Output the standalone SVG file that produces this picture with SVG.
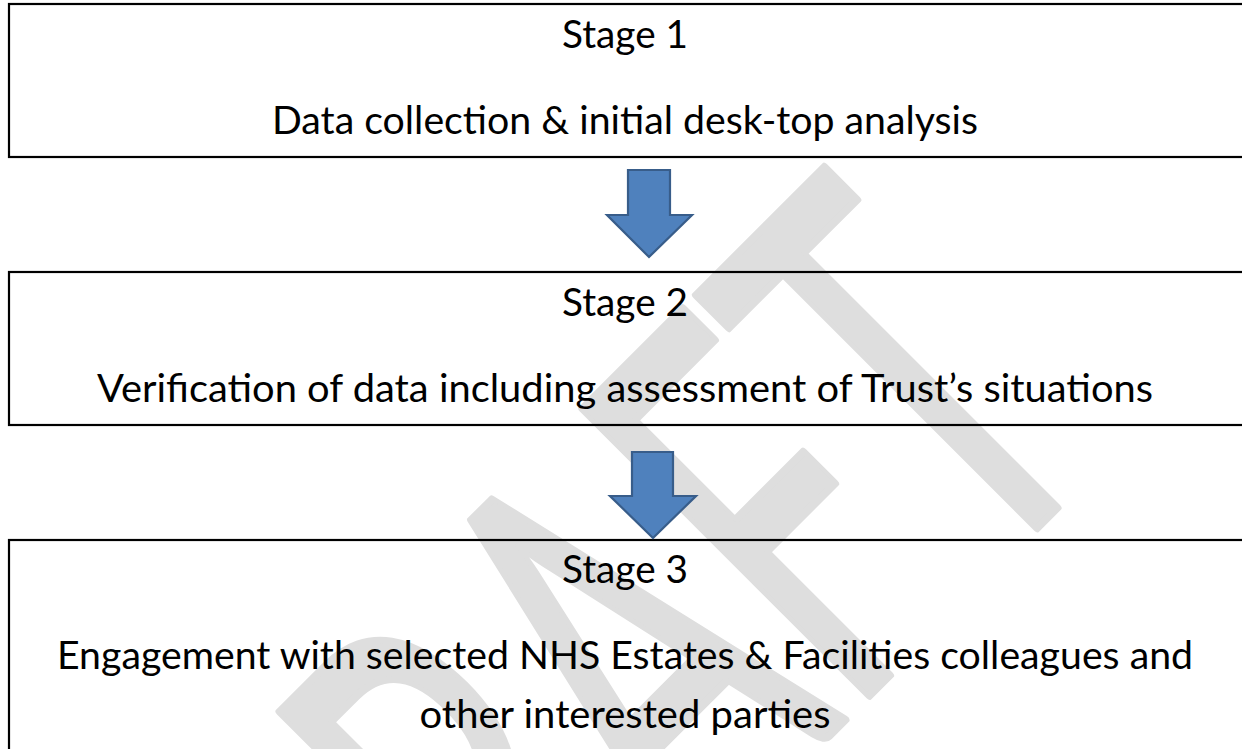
<svg xmlns="http://www.w3.org/2000/svg" width="1242" height="749" viewBox="0 0 1242 749">
  <style>
    .box { fill: none; stroke: #000; stroke-width: 2.2; }
    .label { font-family: Lato, "Open Sans", "Liberation Sans", sans-serif; font-size: 38px; fill: #000; text-anchor: middle; }
    .arrow { fill: #4F81BD; stroke: #385D8A; stroke-width: 2.2; stroke-linejoin: miter; }
    .wm { font-family: Lato, "Open Sans", "Liberation Sans", sans-serif; font-size: 566px; fill: #dedede; stroke: #dedede; stroke-width: 8; stroke-linejoin: round; }
  </style>

  <rect width="1242" height="749" fill="#ffffff"/>

  <!-- background watermark -->
  <g id="watermark">
    <text class="wm" transform="translate(367.5,1197.5) rotate(-45)" textLength="1058" lengthAdjust="spacingAndGlyphs">DRAFT</text>
  </g>

  <!-- stage boxes -->
  <g id="stage1">
    <rect class="box" x="9" y="4" width="1245" height="153"/>
    <text class="label" x="625" y="48" textLength="126" lengthAdjust="spacingAndGlyphs">Stage 1</text>
    <text class="label" x="625" y="134" textLength="706" lengthAdjust="spacingAndGlyphs">Data collection &amp; initial desk-top analysis</text>
  </g>

  <g id="stage2">
    <rect class="box" x="9" y="272" width="1245" height="153"/>
    <text class="label" x="625" y="316" textLength="126" lengthAdjust="spacingAndGlyphs">Stage 2</text>
    <text class="label" x="625" y="402" textLength="1056" lengthAdjust="spacingAndGlyphs">Verification of data including assessment of Trust’s situations</text>
  </g>

  <g id="stage3">
    <rect class="box" x="9" y="540" width="1245" height="230"/>
    <text class="label" x="625" y="583" textLength="126" lengthAdjust="spacingAndGlyphs">Stage 3</text>
    <text class="label" x="625" y="669" textLength="1136" lengthAdjust="spacingAndGlyphs">Engagement with selected NHS Estates &amp; Facilities colleagues and</text>
    <text class="label" x="625" y="728" textLength="411" lengthAdjust="spacingAndGlyphs">other interested parties</text>
  </g>

  <!-- block arrows between stages -->
  <g id="connectors">
    <path class="arrow" d="M628,170 H670 V215 H692 L649,257 L607,215 H628 Z"/>
    <path class="arrow" d="M632,452 H673 V496 H696 L653,538 L610,496 H632 Z"/>
  </g>
</svg>
